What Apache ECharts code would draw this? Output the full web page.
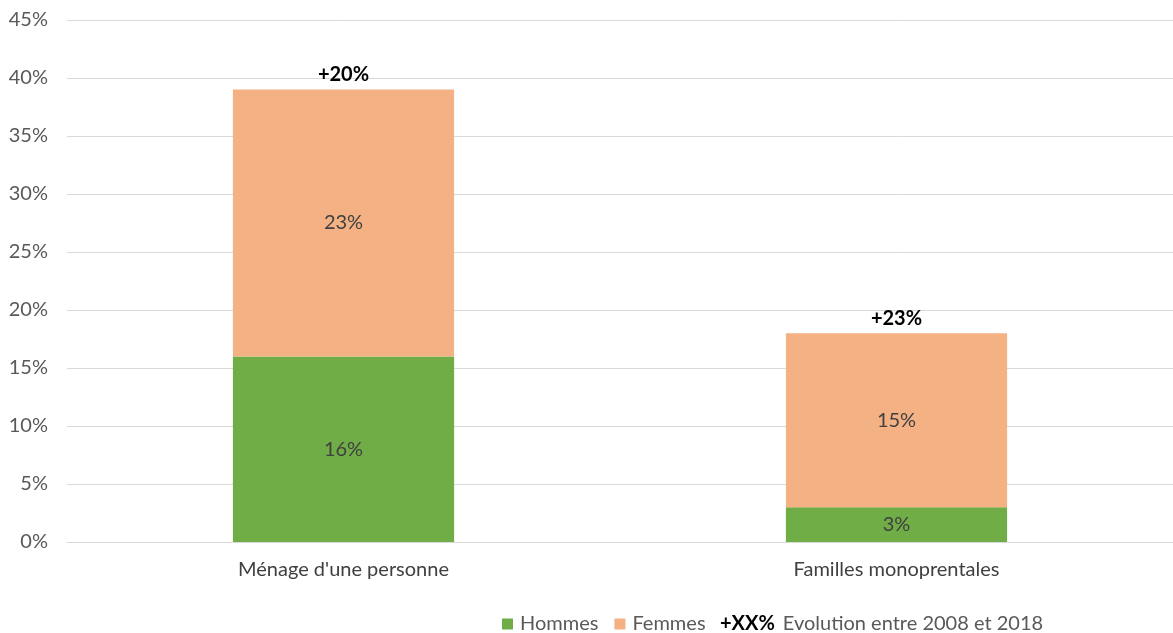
<!DOCTYPE html>
<html>
<head>
<meta charset="utf-8">
<script src="https://cdn.jsdelivr.net/npm/echarts@6/dist/echarts.min.js"></script>
<style>
  html, body { margin: 0; padding: 0; background: #fff; }
  #chart { width: 1173px; height: 633px; }
</style>
</head>
<body>
<div id="chart"></div>
<script>
// Household types and their shares by sex
const categories = ["Ménage d'une personne", "Familles monoprentales"];
const hommes = [16, 3];
const femmes = [23, 15];
const evolution = ["+20%", "+23%"];
const yTicks = { min: 0, max: 45, interval: 5 };

const FONT = 'Lato, "Noto Sans", sans-serif';
const chart = echarts.init(document.getElementById('chart'));

chart.setOption({
  backgroundColor: '#ffffff',
  animation: false,
  textStyle: { fontFamily: FONT },
  grid: { left: 67, right: 0, top: 20, bottom: 91 },
  legend: {
    left: 497, top: 609,
    itemWidth: 11, itemHeight: 11, itemGap: 16,
    icon: 'rect',
    textStyle: { fontFamily: FONT, fontSize: 20, color: '#595959', padding: [0, 0, 0, 2] },
    data: ['Hommes', 'Femmes']
  },
  graphic: [{
    type: 'text',
    left: 720, top: 614,
    style: {
      text: '{b|+XX%}{n|Evolution entre 2008 et 2018}',
      rich: {
        b: { fontFamily: FONT, fontSize: 20, fontWeight: 'bold', fill: '#000' },
        n: { fontFamily: FONT, fontSize: 20, fill: '#595959', padding: [0, 0, 0, 8] }
      }
    }
  }],
  xAxis: {
    type: 'category',
    data: categories,
    axisTick: { show: false },
    axisLine: { lineStyle: { color: '#d9d9d9' } },
    axisLabel: { fontFamily: FONT, fontSize: 20, color: '#404040', margin: 18 }
  },
  yAxis: {
    type: 'value',
    min: yTicks.min, max: yTicks.max, interval: yTicks.interval,
    axisLabel: { formatter: '{value}%', fontFamily: FONT, fontSize: 20, color: '#595959', margin: 19 },
    splitLine: { lineStyle: { color: '#d9d9d9' } },
    axisLine: { show: false },
    axisTick: { show: false }
  },
  series: [
    {
      name: 'Hommes', type: 'bar', stack: 'total',
      barWidth: '40%',
      data: hommes,
      itemStyle: { color: '#70ad47' },
      label: { show: true, position: 'inside', formatter: '{c}%', fontFamily: FONT, fontSize: 20, color: '#404040' }
    },
    {
      name: 'Femmes', type: 'bar', stack: 'total',
      barWidth: '40%',
      data: femmes,
      itemStyle: { color: '#f4b183' },
      label: { show: true, position: 'inside', formatter: '{c}%', fontFamily: FONT, fontSize: 20, color: '#404040' }
    },
    {
      // Evolution labels sitting on top of each stacked bar
      name: 'Evolution', type: 'bar', stack: 'total',
      barWidth: '40%',
      data: [0, 0],
      itemStyle: { color: 'transparent' },
      label: {
        show: true, position: 'top', distance: 5,
        formatter: (p) => evolution[p.dataIndex],
        fontFamily: FONT, fontSize: 20, fontWeight: 'bold', color: '#000'
      },
      tooltip: { show: false }
    }
  ]
});
</script>
</body>
</html>
